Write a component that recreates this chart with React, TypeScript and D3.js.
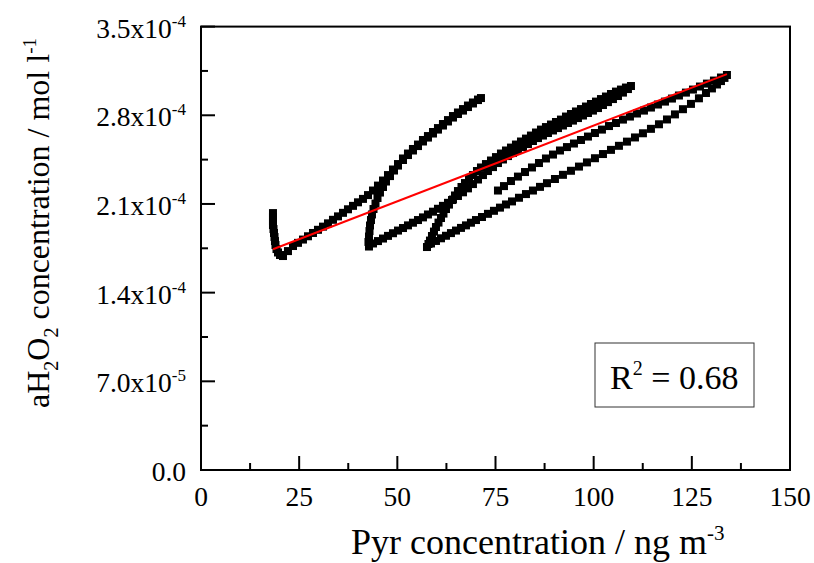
import React from 'react';
import * as d3 from 'd3';

// ---- data (aH2O2 in units of 1e-4 mol l-1, Pyr in ng m-3), in time order ----
const day1Pyr = [18.33,18.33,18.33,18.33,18.46,18.59,18.72,18.84,18.97,19.23,19.61,20.12,20.88,22.15,23.43,24.70,25.97,27.25,28.52,29.79,31.07,32.34,33.61,34.89,36.16,37.43,38.71,39.98,41.25,42.53,43.80,45.07,46.35,47.62,48.89,50.17,51.44,52.71,53.98,55.26,56.53,57.80,59.08,60.35,61.62,62.90,64.17,65.44,66.72,67.99,69.26,70.54,71.30];
const day1H2O2 = [2.028,1.997,1.965,1.934,1.902,1.871,1.839,1.807,1.776,1.744,1.717,1.697,1.689,1.728,1.768,1.793,1.819,1.845,1.871,1.896,1.921,1.947,1.975,2.002,2.030,2.058,2.085,2.113,2.140,2.170,2.206,2.245,2.285,2.328,2.372,2.415,2.459,2.498,2.534,2.569,2.605,2.636,2.668,2.699,2.731,2.762,2.794,2.822,2.849,2.877,2.901,2.924,2.936];

const night1Pyr = [70.54,69.26,67.99,66.72,65.44,64.17,62.90,61.62,60.35,59.08,57.80,56.53,55.26,53.98,52.71,51.44,50.17,49.15,48.13,47.11,46.35,45.58,44.95,44.44,43.93,43.54,43.29,43.04,42.91,42.78,42.65,42.78];
const night1H2O2 = [2.920,2.893,2.865,2.837,2.810,2.782,2.751,2.719,2.687,2.656,2.624,2.593,2.557,2.522,2.486,2.447,2.403,2.364,2.320,2.277,2.234,2.190,2.147,2.103,2.060,2.017,1.973,1.930,1.886,1.843,1.800,1.764];

const day2Pyr = [43.80,45.07,46.35,47.62,48.89,50.17,51.44,52.71,53.98,55.26,56.53,57.80,59.08,60.35,61.62,62.90,64.17,65.44,66.72,67.99,69.26,70.54,71.81,73.08,74.36,75.63,76.90,78.18,79.45,80.72,82.00,83.27,84.54,85.82,87.09,88.36,89.64,90.91,92.18,93.46,94.73,96.00,97.28,98.55,99.82,101.10,102.37,103.64,104.91,106.19,107.46,108.73,109.50];
const day2H2O2 = [1.788,1.807,1.827,1.848,1.869,1.890,1.910,1.931,1.952,1.973,1.994,2.017,2.039,2.062,2.085,2.109,2.135,2.163,2.192,2.223,2.257,2.293,2.328,2.360,2.391,2.423,2.451,2.478,2.502,2.526,2.549,2.573,2.597,2.620,2.640,2.660,2.680,2.699,2.719,2.739,2.758,2.778,2.798,2.818,2.837,2.857,2.881,2.904,2.928,2.952,2.979,3.007,3.031];

const night2Pyr = [108.22,106.95,105.68,104.41,103.13,101.86,100.59,99.31,98.04,96.77,95.49,94.22,92.95,91.67,90.40,89.13,87.85,86.58,85.31,84.03,82.76,81.49,80.21,78.94,77.67,76.39,75.12,73.85,72.57,71.30,70.28,69.26,68.25,67.23,66.34,65.44,64.68,63.92,63.15,62.39,61.75,61.12,60.48,59.84,59.33,58.82,58.31,57.93,57.55];
const night2H2O2 = [3.019,3.003,2.987,2.968,2.948,2.928,2.908,2.889,2.869,2.849,2.830,2.810,2.790,2.766,2.747,2.727,2.707,2.687,2.664,2.640,2.616,2.593,2.569,2.545,2.522,2.498,2.470,2.443,2.415,2.388,2.360,2.328,2.297,2.265,2.234,2.202,2.167,2.131,2.095,2.060,2.024,1.989,1.953,1.918,1.882,1.847,1.811,1.784,1.760];

const day3Pyr = [58.57,59.84,61.12,62.39,63.66,64.94,66.21,67.48,68.75,70.03,71.56,73.08,74.61,76.14,77.67,79.20,80.98,82.76,84.54,86.33,88.11,90.14,92.18,94.22,96.26,98.29,100.33,102.37,104.41,106.44,108.48,110.52,112.55,114.59,116.63,118.67,120.70,122.74,124.78,126.81,128.60,130.12,131.40,132.42,133.31,133.94];
const day3H2O2 = [1.788,1.808,1.829,1.849,1.870,1.890,1.911,1.931,1.952,1.973,1.997,2.022,2.046,2.071,2.096,2.120,2.149,2.178,2.206,2.235,2.264,2.297,2.330,2.362,2.395,2.428,2.461,2.494,2.527,2.559,2.592,2.625,2.658,2.693,2.729,2.767,2.807,2.848,2.890,2.934,2.976,3.012,3.043,3.070,3.095,3.118];

const night3Pyr = [132.42,130.63,128.85,127.07,125.29,123.50,121.72,119.94,118.16,116.37,114.59,112.81,111.03,109.24,107.46,105.68,103.90,102.11,100.33,98.55,96.77,94.98,93.20,91.42,89.64,87.85,86.07,84.29,82.51,80.72,78.94,77.16,75.63];
const night3H2O2 = [3.098,3.074,3.050,3.027,3.003,2.979,2.956,2.932,2.908,2.885,2.861,2.837,2.814,2.790,2.766,2.739,2.715,2.687,2.660,2.632,2.605,2.577,2.549,2.522,2.490,2.459,2.423,2.388,2.352,2.316,2.281,2.241,2.206];

// linear fit, in 1e-4 units
const fitIntercept = 1.523;
const fitSlope = 0.01196;
const rSquared = '0.68';

const xTickValues = [0, 25, 50, 75, 100, 125, 150];
const xMinorValues = [12.5, 37.5, 62.5, 87.5, 112.5, 137.5];
const yTickValues = [0, 0.7, 1.4, 2.1, 2.8, 3.5];
const yMinorValues = [0.35, 1.05, 1.75, 2.45, 3.15];
const Y_UNIT = 1e-4;

const xTitle = 'Pyr concentration / ng m';
const xTitleSup = '-3';

const FONT = "'Liberation Serif', 'Times New Roman', serif";

function fmtY(t: number) {
  if (t === 0) return { mant: '0.0', exp: '' };
  const v = t * Y_UNIT;
  const e = Math.floor(Math.log10(v) + 1e-9);
  const m = v / Math.pow(10, e);
  return { mant: m.toFixed(1) + 'x10', exp: String(e) };
}

export default function App() {
  const L = 201, R = 790, T = 26.6, B = 470;
  const x = d3.scaleLinear().domain([0, 150]).range([L, R]);
  const y = d3.scaleLinear().domain([0, 3.5]).range([B, T]);

  const segs: [number[], number[]][] = [
    [day1Pyr, day1H2O2], [night1Pyr, night1H2O2], [day2Pyr, day2H2O2],
    [night2Pyr, night2H2O2], [day3Pyr, day3H2O2], [night3Pyr, night3H2O2],
  ];
  const pts: [number, number][] = [];
  segs.forEach(([px, py]) => px.forEach((v, i) => pts.push([v, py[i]])));

  const allX = pts.map((p) => p[0]);
  const x0 = d3.min(allX) as number;
  const x1 = d3.max(allX) as number;
  const fitLine = d3.line<number>().x((v) => x(v)).y((v) => y(fitIntercept + fitSlope * v));

  const ms = 8;

  return (
    <svg width={814} height={563} style={{ position: 'absolute', left: 0, top: 0, background: '#fff' }}
      fontFamily={FONT}>
      <rect x={0} y={0} width={814} height={563} fill="#fff" />
      {/* markers */}
      <g fill="#000">
        {pts.map((p, i) => (
          <rect key={i} x={x(p[0]) - ms / 2} y={y(p[1]) - ms / 2} width={ms} height={ms} />
        ))}
      </g>
      {/* fit line */}
      <path d={fitLine([x0, x1]) || ''} stroke="#ff0000" strokeWidth={2} fill="none" />

      {/* frame */}
      <rect x={L} y={T} width={R - L} height={B - T} fill="none" stroke="#000" strokeWidth={2} />

      {/* ticks */}
      <g stroke="#000" strokeWidth={2}>
        {xTickValues.map((t) => (
          <line key={'xt' + t} x1={x(t)} x2={x(t)} y1={B} y2={B - 14} />
        ))}
        {xMinorValues.map((t) => (
          <line key={'xm' + t} x1={x(t)} x2={x(t)} y1={B} y2={B - 7} />
        ))}
        {yTickValues.map((t) => (
          <line key={'yt' + t} x1={L} x2={L + 14} y1={y(t)} y2={y(t)} />
        ))}
        {yMinorValues.map((t) => (
          <line key={'ym' + t} x1={L} x2={L + 7} y1={y(t)} y2={y(t)} />
        ))}
      </g>

      {/* x tick labels */}
      <g fontSize={27.5} textAnchor="middle" fill="#000">
        {xTickValues.map((t) => (
          <text key={'xl' + t} x={x(t)} y={506}>{t}</text>
        ))}
      </g>
      {/* y tick labels */}
      <g fontSize={27.5} textAnchor="end" fill="#000">
        {yTickValues.map((t) => {
          const f = fmtY(t);
          return (
            <text key={'yl' + t} x={186} y={y(t) + 11}>
              {f.mant}
              {f.exp && <tspan dy={-11} fontSize={17}>{f.exp}</tspan>}
            </text>
          );
        })}
      </g>

      {/* axis titles */}
      <text x={351} y={554} fontSize={36} fill="#000">
        {xTitle}
        <tspan dy={-14} fontSize={21}>{xTitleSup}</tspan>
      </text>
      <text transform="translate(49,223) rotate(-90)" textAnchor="middle" fontSize={32} fill="#000">
        aH<tspan dy={9} fontSize={20}>2</tspan><tspan dy={-9}>O</tspan><tspan dy={9} fontSize={20}>2</tspan>
        <tspan dy={-9}> concentration / mol l</tspan><tspan dy={-13} fontSize={19}>-1</tspan>
      </text>

      {/* R^2 box */}
      <rect x={595} y={343} width={159} height={64} fill="#fff" stroke="#333" strokeWidth={1} />
      <text x={610} y={389} fontSize={34} fill="#000">
        R<tspan dy={-14} fontSize={20}>2</tspan><tspan dy={14}> = {rSquared}</tspan>
      </text>
    </svg>
  );
}
